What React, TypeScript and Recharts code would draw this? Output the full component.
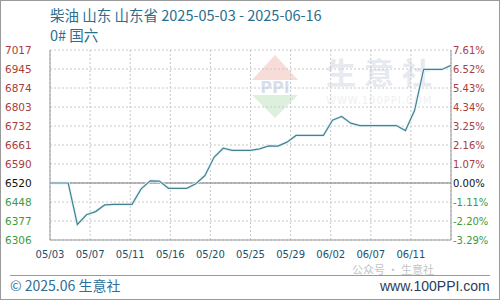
import React from 'react';
import { LineChart, Line, XAxis, YAxis, CartesianGrid, ReferenceLine } from 'recharts';

const dates = [
  '05/03','05/04','05/05','05/06','05/07','05/08','05/09','05/10','05/11','05/12',
  '05/13','05/14','05/15','05/16','05/17','05/18','05/19','05/20','05/21','05/22',
  '05/23','05/24','05/25','05/26','05/27','05/28','05/29','05/30','05/31','06/01',
  '06/02','06/03','06/04','06/05','06/06','06/07','06/08','06/09','06/10','06/11',
  '06/12','06/13','06/14','06/15','06/16',
];
const prices = [
  6520, 6520, 6520, 6365, 6401, 6413, 6438, 6440, 6440, 6440,
  6498, 6528, 6527, 6500, 6500, 6500, 6517, 6548, 6616, 6650,
  6642, 6642, 6642, 6648, 6659, 6658, 6673, 6698, 6698, 6698,
  6698, 6755, 6769, 6744, 6735, 6735, 6735, 6735, 6735, 6716,
  6791, 6945, 6945, 6945, 6960,
];
const xTickLabels = ['05/03','05/07','05/11','05/16','05/20','05/25','05/29','06/02','06/07','06/11',''];
const leftTickLabels = ['6306','6377','6448','6520','6590','6661','6732','6803','6874','6945','7017'];
const rightTickLabels = ['-3.29%','-2.20%','-1.11%','0.00%','1.07%','2.16%','3.25%','4.34%','5.43%','6.52%','7.61%'];
const basePrice = 6520;
const step = 71.1;

const data = prices.map((p, i) => ({ i, date: dates[i], price: p }));
const yTicks = leftTickLabels.map((_, k) => basePrice + (k - 3) * step);
const xTicks = xTickLabels.map((_, k) => (k * (dates.length - 1)) / (xTickLabels.length - 1));

const RED = '#a8403a';
const GREEN = '#3d9a3d';
const AXIS_TXT = '#244f6c';

const YTick = (props: any) => {
  const { y, payload } = props;
  const k = Math.round((payload.value - basePrice) / step) + 3;
  const color = k > 3 ? RED : k < 3 ? GREEN : '#111';
  return (
    <g>
      <text x={5} y={y} dy={4} fill={color} fontSize={10.5} fontFamily="DejaVu Sans" textAnchor="start">
        {leftTickLabels[k]}
      </text>
      <text x={453} y={y} dy={4} fill={color} fontSize={10} fontFamily="DejaVu Sans" textAnchor="start">
        {rightTickLabels[k]}
      </text>
    </g>
  );
};

const XTick = (props: any) => {
  const { x, y, index } = props;
  return (
    <text x={x} y={y + 10} fill={AXIS_TXT} fontSize={10} fontFamily="DejaVu Sans" textAnchor="middle">
      {xTickLabels[index]}
    </text>
  );
};

export default function App() {
  return (
    <div style={{ position: 'absolute', left: 0, top: 0, width: 500, height: 300, background: '#fff', fontFamily: '"Noto Sans CJK SC", sans-serif', overflow: 'hidden' }}>
      <div style={{ position: 'absolute', left: 0, top: 0, width: 498, height: 298, border: '1px solid #9a9a9a' }} />
      {/* watermark */}
      <svg style={{ position: 'absolute', left: 0, top: 0 }} width={500} height={300}>
        <polygon points="275,55 298,80 252,80" fill="#f8dcd8" />
        <polygon points="252,95 298,95 275,118" fill="#ddf0dd" />
        <text x={275} y={93} textAnchor="middle" fontSize={16} fontWeight="bold" fill="#d8dfea" fontFamily="DejaVu Sans">PPI</text>
        <text x={326} y={84} fontSize={30} fontWeight="bold" fill="#e6e9ef" fontFamily='"Noto Sans CJK SC"' letterSpacing={8}>生意社</text>
        <text x={326} y={104} fontSize={10} fill="#eef0f3" fontFamily="DejaVu Sans" letterSpacing={1}>WWW.100PPI.COM</text>
      </svg>
      <div style={{ position: 'absolute', left: 50, top: 5, fontSize: 14.5, color: '#2b6f8c', whiteSpace: 'nowrap', lineHeight: '20px' }}>
        柴油 山东 山东省 2025-05-03 - 2025-06-16
      </div>
      <div style={{ position: 'absolute', left: 50, top: 25, fontSize: 14.5, color: '#2b6f8c', whiteSpace: 'nowrap', lineHeight: '20px' }}>
        0# 国六
      </div>
      <div style={{ position: 'absolute', left: 0, top: 0 }}>
        <LineChart width={500} height={300} data={data} margin={{ top: 50, right: 49, bottom: 40, left: 0 }}>
          <CartesianGrid stroke="#c8c8c8" strokeDasharray="2 2" />
          <XAxis
            dataKey="i"
            type="number"
            domain={[0, dates.length - 1]}
            ticks={xTicks}
            interval={0}
            tick={<XTick />}
            tickLine={false}
            axisLine={{ stroke: '#999' }}
            height={20}
          />
          <YAxis
            domain={[yTicks[0], yTicks[yTicks.length - 1]]}
            ticks={yTicks}
            interval={0}
            tick={<YTick />}
            tickLine={false}
            axisLine={{ stroke: '#999' }}
            width={50}
          />
          <ReferenceLine x={dates.length - 1} stroke="#999" />
          <ReferenceLine y={basePrice} stroke="#777" />
          <Line type="linear" dataKey="price" stroke="#e6f4fa" strokeWidth={3} dot={false} isAnimationActive={false} />
          <Line type="linear" dataKey="price" stroke="#45828f" strokeWidth={1.2} dot={false} isAnimationActive={false} />
        </LineChart>
      </div>
      <div style={{ position: 'absolute', left: 10, top: 275, width: 480, height: 1, background: '#9a9a9a' }} />
      <div style={{ position: 'absolute', left: 352, top: 263, fontSize: 11, color: '#c4c4c4', whiteSpace: 'nowrap', lineHeight: '12px' }}>
        公众号 · 生意社
      </div>
      <div style={{ position: 'absolute', left: 10, top: 276, fontSize: 14, color: '#2e6e9a', whiteSpace: 'nowrap', lineHeight: '18px' }}>
        © 2025.06 生意社
      </div>
      <div style={{ position: 'absolute', left: 380, top: 277, fontSize: 14, color: '#2a3d5c', whiteSpace: 'nowrap', lineHeight: '18px', fontFamily: '"Liberation Sans", sans-serif' }}>
        www.100PPI.com
      </div>
    </div>
  );
}
